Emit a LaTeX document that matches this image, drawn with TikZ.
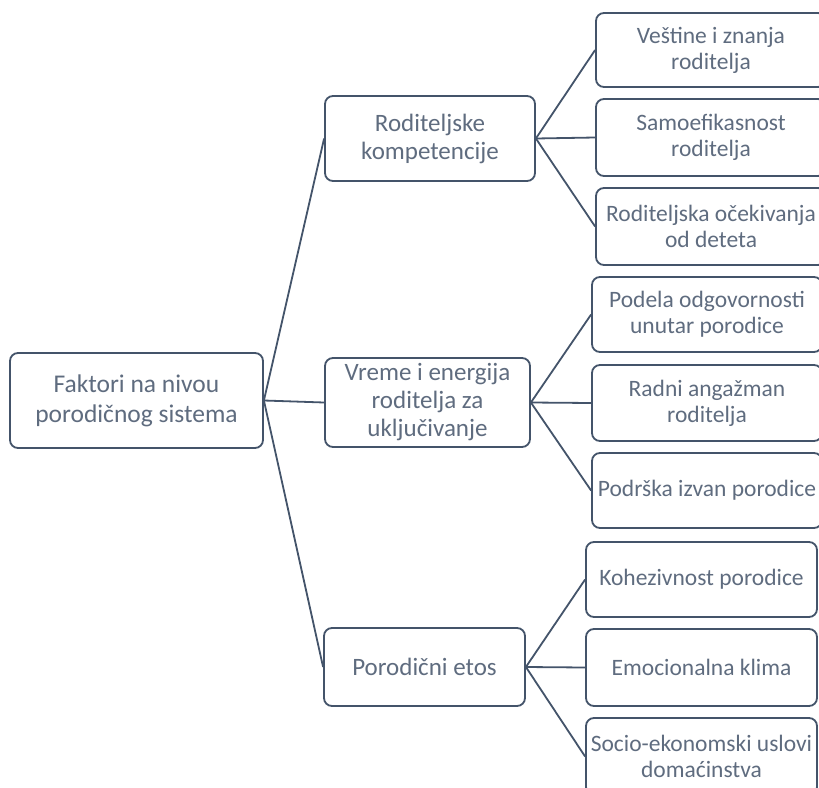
\documentclass[tikz,border=0pt]{standalone}
\usepackage{fontspec}
\setmainfont{Carlito}
\definecolor{edgecol}{HTML}{44546A}
\definecolor{txtcol}{HTML}{5F6C7F}
\begin{document}
\begin{tikzpicture}[x=1pt,y=-1pt,
  box/.style={draw=edgecol, line width=1.8pt, rounded corners=8pt, fill=white,
    text=txtcol, align=center, inner sep=0pt},
  rootbox/.style={box, font=\fontsize{25.5}{30}\selectfont},
  midbox/.style={box, font=\fontsize{25}{28}\selectfont},
  leafbox/.style={box, font=\fontsize{23.5}{26}\selectfont},
  conn/.style={draw=edgecol, line width=1.8pt}]
\clip (0,0) rectangle (819,787);
\fill[white] (0,0) rectangle (819,787);
% root
\node[rootbox, minimum width=253pt, minimum height=95pt] (root) at (136.5,400.5) {Faktori na nivou\\porodičnog sistema};
% middle
\node[midbox, minimum width=210pt, minimum height=85pt] (rod) at (430,138.5) {Roditeljske\\kompetencije};
\node[midbox, minimum width=205pt, minimum height=89pt] (vre) at (427.5,402.5) {Vreme i energija\\roditelja za\\uključivanje};
\node[midbox, minimum width=201pt, minimum height=78pt] (por) at (424.5,667) {Porodični etos};
% leaves top
\node[leafbox, minimum width=230pt, minimum height=74pt] (l1) at (711,50) {Veštine i znanja\\roditelja};
\node[leafbox, minimum width=230pt, minimum height=77pt] (l2) at (711,137.5) {Samoefikasnost\\roditelja};
\node[leafbox, minimum width=230pt, minimum height=77pt] (l3) at (711,226.5) {Roditeljska očekivanja\\od deteta};
% leaves middle
\node[leafbox, minimum width=230pt, minimum height=75pt] (l4) at (707,314.5) {Podela odgovornosti\\unutar porodice};
\node[leafbox, minimum width=230pt, minimum height=76pt] (l5) at (707,403) {Radni angažman\\roditelja};
\node[leafbox, minimum width=230pt, minimum height=75pt] (l6) at (707,490.5) {Podrška izvan porodice};
% leaves bottom
\node[leafbox, minimum width=231pt, minimum height=75pt] (l7) at (701.5,579.5) {Kohezivnost porodice};
\node[leafbox, minimum width=231pt, minimum height=77pt] (l8) at (701.5,667.5) {Emocionalna klima};
\node[leafbox, minimum width=231pt, minimum height=77pt] (l9) at (701.5,756.5) {Socio-ekonomski uslovi\\domaćinstva};
% connectors
\draw[conn] (root.east) -- (rod.west);
\draw[conn] (root.east) -- (vre.west);
\draw[conn] (root.east) -- (por.west);
\draw[conn] (rod.east) -- (l1.west);
\draw[conn] (rod.east) -- (l2.west);
\draw[conn] (rod.east) -- (l3.west);
\draw[conn] (vre.east) -- (l4.west);
\draw[conn] (vre.east) -- (l5.west);
\draw[conn] (vre.east) -- (l6.west);
\draw[conn] (por.east) -- (l7.west);
\draw[conn] (por.east) -- (l8.west);
\draw[conn] (por.east) -- (l9.west);
\end{tikzpicture}
\end{document}
